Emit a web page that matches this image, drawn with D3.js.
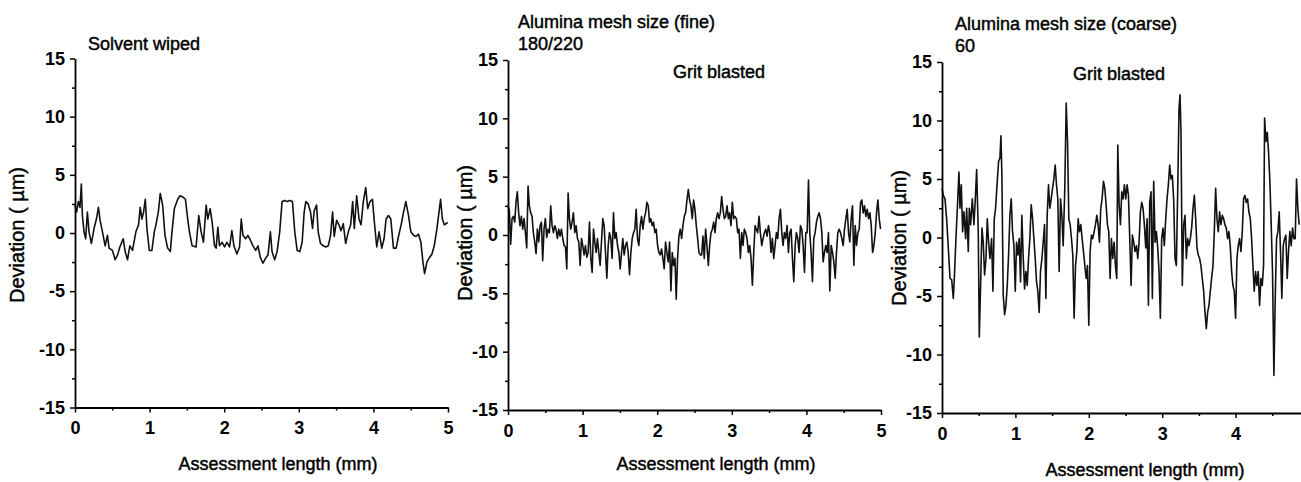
<!DOCTYPE html>
<html><head><meta charset="utf-8">
<script src="https://cdn.jsdelivr.net/npm/d3@7"></script>
<style>
body{margin:0;background:#fff;}
svg{display:block;}
text{font-family:"Liberation Sans",Arial,Helvetica,sans-serif;fill:#000;}
</style></head><body><svg id="chart" width="1301" height="482"></svg>
<script>
// ---- tick definitions ----
const xTicks = [0, 1, 2, 3, 4, 5];
const xMinorTicks = [0.5, 1.5, 2.5, 3.5, 4.5];
const yTicks = [-15, -10, -5, 0, 5, 10, 15];
const yMinorTicks = [-12.5, -7.5, -2.5, 2.5, 7.5, 12.5];
const xLabel = "Assessment length (mm)";
const yLabel = "Deviation ( µm)";

// ---- panel 1: solvent wiped (x in mm, deviation in µm) ----
const solventX = [0,0.022,0.045,0.067,0.085,0.099,0.121,0.143,0.166,0.188,0.220,0.256,0.287,0.314,0.336,0.368,0.404,0.435,0.457,0.502,0.538,0.570,0.601,0.646,0.673,0.704,0.735,0.771,0.816,0.852,0.874,0.897,0.919,0.942,0.964,0.996,1.031,1.063,1.085,1.117,1.143,1.175,1.206,1.242,1.278,1.300,1.332,1.377,1.408,1.444,1.480,1.511,1.534,1.570,1.623,1.659,1.691,1.722,1.758,1.780,1.812,1.839,1.870,1.892,1.915,1.937,1.973,2.004,2.036,2.072,2.103,2.130,2.170,2.206,2.229,2.251,2.287,2.318,2.350,2.386,2.422,2.453,2.484,2.520,2.552,2.587,2.619,2.641,2.677,2.709,2.744,2.776,2.812,2.843,2.879,2.915,2.946,2.978,3.013,3.045,3.072,3.094,3.126,3.157,3.184,3.206,3.238,3.260,3.291,3.327,3.363,3.395,3.426,3.453,3.475,3.507,3.538,3.565,3.596,3.628,3.664,3.695,3.722,3.744,3.776,3.807,3.834,3.865,3.897,3.924,3.955,3.987,4.009,4.045,4.076,4.112,4.143,4.170,4.202,4.233,4.269,4.305,4.336,4.372,4.404,4.435,4.471,4.502,4.538,4.570,4.605,4.637,4.664,4.686,4.717,4.753,4.785,4.816,4.852,4.879,4.901,4.924,4.951,4.996];
const solventY = [2.4,1.8,2.7,2.2,4.2,1.5,0.1,-0.5,1.8,0.1,-0.9,0.4,1.2,2.2,1.1,0.1,-1.1,-0.2,-1.3,-1.5,-2.3,-1.9,-1.2,-0.5,-1.6,-2.3,-1.1,-1.5,0.1,0.7,2.2,1.2,1.8,2.9,0.4,-1.5,-1.5,0.1,0.7,1.8,3.4,2.4,-0.2,-1.3,-1.6,0.1,2.1,2.9,3.2,3.1,2.9,1.2,0.1,-1.1,-1.2,1.5,0.1,-0.8,2.4,1.2,2.1,0.9,-1.1,-1.3,0.5,-1.1,-0.8,-1.2,-0.8,-1.2,0.2,-1.1,-1.8,-1.2,1.2,-0.2,-0.5,-0.2,-0.6,-1.1,-1.5,-1.1,-2.1,-2.6,-2.2,-1.9,0.1,-1.6,-2.3,-1.6,0.1,2.7,2.8,2.7,2.8,2.7,0.1,-1.5,-1.6,-0.8,1.8,2.7,2.5,1.8,0.4,1.9,2.4,0.1,-0.9,-1.1,-1.2,-1.1,-0.2,1.8,-0.3,1.1,0.7,0.2,0.8,-0.9,0.1,0.7,2.7,0.4,3.2,1.2,0.7,2.7,3.9,2.1,2.7,2.9,1.2,-1.2,0.1,-1.3,-0.5,1.2,1.5,1.2,-1.3,-1.3,-0.3,0.7,1.8,2.7,1.5,0.1,-0.2,-0.3,-0.1,-0.8,-2.5,-3.5,-2.5,-2.1,-1.8,-1.1,0.4,1.8,2.9,1.2,0.7,0.9];

// ---- panel 2: fine alumina 180/220 ----
const fineX = [0,0.018,0.036,0.054,0.072,0.090,0.107,0.125,0.143,0.161,0.179,0.197,0.215,0.233,0.251,0.269,0.286,0.304,0.322,0.340,0.358,0.376,0.394,0.412,0.430,0.448,0.465,0.483,0.501,0.519,0.537,0.555,0.573,0.591,0.609,0.627,0.644,0.662,0.680,0.698,0.716,0.734,0.752,0.770,0.788,0.806,0.823,0.841,0.859,0.877,0.895,0.913,0.931,0.949,0.967,0.985,1.002,1.020,1.038,1.056,1.074,1.092,1.110,1.128,1.146,1.164,1.181,1.199,1.217,1.235,1.253,1.271,1.289,1.307,1.325,1.343,1.360,1.378,1.396,1.414,1.432,1.450,1.468,1.486,1.504,1.522,1.539,1.557,1.575,1.593,1.611,1.629,1.647,1.665,1.683,1.701,1.718,1.736,1.754,1.772,1.790,1.808,1.826,1.844,1.862,1.880,1.897,1.915,1.933,1.951,1.969,1.987,2.005,2.023,2.041,2.059,2.076,2.094,2.112,2.130,2.148,2.166,2.184,2.202,2.220,2.238,2.255,2.273,2.291,2.309,2.327,2.345,2.363,2.381,2.399,2.417,2.434,2.452,2.470,2.488,2.506,2.524,2.542,2.560,2.578,2.596,2.613,2.631,2.649,2.667,2.685,2.703,2.721,2.739,2.757,2.775,2.792,2.810,2.828,2.846,2.864,2.882,2.900,2.918,2.936,2.954,2.971,2.989,3.007,3.025,3.043,3.061,3.079,3.097,3.115,3.133,3.150,3.168,3.186,3.204,3.222,3.240,3.258,3.276,3.294,3.312,3.329,3.347,3.365,3.383,3.401,3.419,3.437,3.455,3.473,3.491,3.508,3.526,3.544,3.562,3.580,3.598,3.616,3.634,3.652,3.670,3.687,3.705,3.723,3.741,3.759,3.777,3.795,3.813,3.831,3.849,3.866,3.884,3.902,3.920,3.938,3.956,3.974,3.992,4.010,4.028,4.045,4.063,4.081,4.099,4.117,4.135,4.153,4.171,4.189,4.207,4.224,4.242,4.260,4.278,4.296,4.314,4.332,4.350,4.368,4.386,4.403,4.421,4.439,4.457,4.475,4.493,4.511,4.529,4.547,4.565,4.582,4.600,4.618,4.636,4.654,4.672,4.690,4.708,4.726,4.744,4.761,4.779,4.797,4.815,4.833,4.851,4.869,4.887,4.905,4.923,4.940,4.958,4.976,4.994];
const fineY = [2.5,2.1,-0.8,1.4,1.6,1.1,2.8,3.7,1.9,0.8,1.6,0.5,1.4,0.2,-1.1,4.2,2.5,1.9,1.6,0.2,-0.6,-1.6,0.5,-0.6,0.8,1.1,-2.2,0.5,1.4,-0.2,0.5,0.2,2.5,0.8,0.2,0.8,0.5,-0.3,0.5,-0.1,0.5,-0.3,-0.9,-1.0,-2.9,3.6,1.4,0.5,1.1,1.9,0.2,0.8,-0.3,-0.6,-2.6,-0.3,-0.9,-1.7,-0.9,-1.9,-1.5,1.1,-2.0,-3.2,0.5,-0.6,-1.5,-0.3,-1.5,-2.6,-0.6,1.4,0.8,-1.5,-3.7,-0.9,0.2,-0.3,-2.0,1.9,-0.3,0.2,-0.9,-1.5,-2.9,-1.5,-0.3,-1.7,-0.9,-0.6,-1.5,-3.4,-1.5,-0.3,0.2,0.5,2.2,-0.3,-0.9,0.8,1.6,0.5,1.4,1.9,2.8,2.5,1.1,1.4,0.8,1.1,0.2,0.5,-0.9,-1.5,-1.7,-1.2,-2.0,-2.9,-0.6,-1.5,-2.3,-0.6,-4.8,-1.5,-2.6,-2.0,-5.5,-2.0,-0.1,0.5,-0.3,0.8,1.6,1.9,3.0,3.9,3.0,2.5,1.4,3.0,2.2,0.8,-0.3,-1.5,-1.7,-1.7,-0.1,-2.0,0.5,-0.9,-2.6,-0.9,0.2,0.5,1.1,0.2,1.4,1.9,1.4,1.9,3.3,2.2,1.4,1.6,2.5,1.4,1.9,0.8,2.8,1.4,1.6,1.4,0.2,0.5,-2.0,0.2,-0.9,0.5,0.2,-0.3,-1.5,-0.9,-2.0,-4.3,-1.5,0.8,0.5,0.2,1.6,0.2,-0.9,-0.3,0.2,0.5,-0.1,0.8,0.2,-1.5,-0.3,-2.0,-0.9,0.2,-0.3,1.4,2.2,0.2,-0.9,0.2,-0.3,0.8,-1.5,0.2,0.5,-2.0,-4.0,-0.9,0.2,-0.3,-1.5,0.8,0.5,-0.9,-3.2,0.2,0.2,4.7,0.2,-1.5,-4.0,-0.3,0.2,1.1,1.6,1.9,1.4,0.2,-2.3,-1.5,-0.9,-1.5,0.2,-4.8,-0.9,-1.5,-2.3,-3.7,-1.5,0.2,0.5,0.2,-0.3,-0.9,0.5,1.4,2.2,0.2,-0.6,1.4,2.5,-2.6,0.8,-0.9,0.2,0.5,2.8,3.0,1.9,2.5,1.6,2.2,1.4,1.9,0.8,-1.5,-0.9,0.2,1.9,3.0,1.4,0.5];

// ---- panel 3: coarse alumina 60 ----
const coarseX = [0,0.018,0.041,0.063,0.086,0.109,0.132,0.154,0.168,0.190,0.209,0.231,0.245,0.263,0.281,0.299,0.322,0.336,0.358,0.372,0.390,0.413,0.435,0.454,0.472,0.494,0.508,0.526,0.544,0.562,0.580,0.599,0.617,0.635,0.653,0.676,0.694,0.712,0.730,0.753,0.771,0.789,0.803,0.816,0.834,0.853,0.871,0.889,0.907,0.925,0.943,0.961,0.980,0.998,1.016,1.034,1.052,1.070,1.088,1.107,1.125,1.143,1.161,1.179,1.197,1.215,1.234,1.252,1.270,1.288,1.306,1.324,1.342,1.361,1.379,1.397,1.415,1.433,1.451,1.469,1.488,1.506,1.524,1.542,1.560,1.578,1.596,1.615,1.633,1.651,1.673,1.692,1.710,1.728,1.746,1.764,1.782,1.800,1.819,1.837,1.855,1.873,1.891,1.909,1.927,1.946,1.964,1.982,2.000,2.018,2.036,2.054,2.073,2.091,2.109,2.127,2.145,2.163,2.181,2.200,2.218,2.236,2.254,2.272,2.290,2.308,2.327,2.345,2.363,2.381,2.395,2.413,2.431,2.449,2.467,2.485,2.503,2.522,2.540,2.558,2.576,2.594,2.612,2.630,2.649,2.667,2.685,2.703,2.721,2.739,2.757,2.776,2.794,2.812,2.830,2.848,2.866,2.884,2.903,2.921,2.939,2.957,2.975,2.993,3.011,3.029,3.048,3.066,3.084,3.102,3.120,3.138,3.156,3.175,3.193,3.211,3.229,3.243,3.256,3.274,3.293,3.311,3.329,3.347,3.365,3.383,3.401,3.420,3.438,3.456,3.474,3.492,3.510,3.528,3.546,3.565,3.583,3.601,3.619,3.637,3.655,3.673,3.692,3.710,3.728,3.746,3.764,3.782,3.800,3.819,3.837,3.855,3.873,3.891,3.909,3.927,3.946,3.964,3.982,4.000,4.018,4.036,4.054,4.073,4.091,4.109,4.127,4.145,4.163,4.181,4.200,4.218,4.236,4.254,4.272,4.290,4.308,4.327,4.345,4.363,4.381,4.395,4.413,4.431,4.449,4.467,4.485,4.503,4.522,4.540,4.558,4.576,4.594,4.612,4.630,4.649,4.667,4.685,4.703,4.721,4.739,4.757,4.776,4.794,4.812,4.830,4.848,4.866,4.884];
const coarseY = [4.2,3.6,3.3,1.6,-0.9,-3.5,-3.6,-5.2,-3.5,-0.1,2.5,5.6,2.5,4.5,0.5,2.2,-0.1,2.5,-1.2,2.5,1.1,3.3,1.1,3.3,5.8,0.5,-8.5,-4.1,0.8,-0.4,-3.2,-1.8,1.6,-0.4,-1.8,-0.1,-4.6,1.6,2.5,4.8,6.5,6.8,8.7,5.3,-4.9,-6.6,-5.8,-4.1,-1.5,1.9,3.3,0.5,-0.7,-4.6,-0.4,-1.5,-0.1,-3.8,1.9,-1.8,-4.4,-2.9,-4.1,-1.8,-0.1,2.8,1.6,-0.1,-1.8,-3.8,-4.6,-6.4,-2.9,-1.8,-0.4,1.1,-5.2,1.9,4.5,2.5,3.3,4.2,5.0,6.2,4.5,3.3,-2.9,3.3,1.9,-0.7,4.2,11.5,8.2,1.6,1.1,-0.1,-1.5,-6.9,-2.4,-1.2,1.6,0.5,1.1,-0.1,-1.2,-2.4,-3.5,-2.4,-7.5,-1.2,0.2,-0.1,0.5,1.1,1.9,1.1,-0.4,2.5,3.3,4.8,4.2,2.8,1.1,0.5,-3.5,-0.1,-1.8,-0.4,-2.4,-3.5,7.9,2.8,1.1,3.9,3.3,4.5,3.3,4.5,3.6,-0.1,-4.1,0.2,-0.4,-1.2,-0.7,-1.8,-0.4,2.2,3.0,2.5,1.1,-0.9,1.6,-5.8,3.0,3.9,-5.2,4.8,-0.4,0.5,-0.9,-2.9,-6.9,-0.1,0.8,-0.7,1.6,3.3,4.5,6.2,5.0,5.3,3.3,-1.8,-2.4,3.9,11.0,12.2,9.0,-4.1,1.1,1.9,-1.8,-0.1,-0.7,-0.1,0.8,2.5,3.6,1.6,-0.9,-1.5,-1.8,-2.4,-3.5,-4.6,-6.4,-7.8,-6.4,-5.8,-4.6,-3.5,-2.4,0.5,4.2,1.6,0.5,2.2,1.1,1.9,1.6,1.1,0.8,-0.1,0.5,-0.7,-2.9,-4.1,-4.6,-6.9,-1.8,-0.7,-0.1,-1.2,0.5,3.3,3.6,3.0,3.3,2.2,1.6,-0.1,-2.4,-4.6,-2.9,-4.1,-2.9,-5.8,-3.5,-4.1,-2.4,10.2,8.2,9.0,7.3,4.8,1.1,-2.9,-11.8,-5.2,-0.1,0.5,2.2,-1.2,-5.2,-0.7,-0.1,0.2,-3.5,-1.2,0.5,-0.7,0.8,-0.1,-0.1,5.0,2.5,1.1];

// ---- layout (pixels) ----
const W = 1301;
const panels = [
  { xs: solventX, ys: solventY, left: 75, right: 448, top: 58.5, bottom: 407.5,
    notes: [{t: "Solvent wiped", x: 88, y: 50}],
    xTitle: {x: 278, y: 470}, yTitle: {x: 24, y: 235} },
  { xs: fineX, ys: fineY, left: 508, right: 881, top: 60, bottom: 410,
    notes: [{t: "Alumina mesh size (fine)", x: 518, y: 28}, {t: "180/220", x: 518, y: 50}, {t: "Grit blasted", x: 673, y: 78}],
    xTitle: {x: 716, y: 470}, yTitle: {x: 472, y: 233} },
  { xs: coarseX, ys: coarseY, left: 942, right: 1309, top: 62, bottom: 413,
    notes: [{t: "Alumina mesh size (coarse)", x: 955, y: 30}, {t: "60", x: 955, y: 52}, {t: "Grit blasted", x: 1073, y: 80}],
    xTitle: {x: 1145, y: 476}, yTitle: {x: 906, y: 238} }
];

const svg = d3.select("#chart");
const FS = 18;
const fmt = d => String(d);

panels.forEach(p => {
  const x = d3.scaleLinear().domain([0, 5]).range([p.left, p.right]);
  const y = d3.scaleLinear().domain([-15, 15]).range([p.bottom, p.top]);
  const g = svg.append("g");
  const visX = xTicks.filter(v => x(v) < W - 4);

  // data line
  const pts = d3.zip(p.xs, p.ys);
  g.append("path")
    .datum(pts)
    .attr("fill", "none")
    .attr("stroke", "#111")
    .attr("stroke-width", 1.6)
    .attr("stroke-linejoin", "round")
    .attr("d", d3.line().x(d => x(d[0])).y(d => y(d[1])));

  // minor ticks
  g.append("g").attr("transform", `translate(0,${p.bottom})`)
    .call(d3.axisBottom(x).tickValues(xMinorTicks).tickSize(3).tickFormat(""))
    .call(a => a.select(".domain").remove());
  g.append("g").attr("transform", `translate(${p.left},0)`)
    .call(d3.axisLeft(y).tickValues(yMinorTicks).tickSize(3).tickFormat(""))
    .call(a => a.select(".domain").remove());

  // major axes
  const xa = g.append("g").attr("transform", `translate(0,${p.bottom})`)
    .call(d3.axisBottom(x).tickValues(visX).tickSize(5).tickSizeOuter(0).tickPadding(9).tickFormat(fmt));
  const ya = g.append("g").attr("transform", `translate(${p.left},0)`)
    .call(d3.axisLeft(y).tickValues(yTicks).tickSize(5).tickSizeOuter(0).tickPadding(5).tickFormat(fmt));

  [xa, ya].forEach(a => {
    a.select(".domain").attr("stroke", "#000").attr("stroke-width", 1.8);
    a.selectAll(".tick text").attr("font-size", FS).attr("font-family", "Liberation Sans, Arial, sans-serif")
      .attr("font-weight", "bold").attr("fill", "#000");
  });
  g.selectAll(".tick line").attr("stroke", "#000").attr("stroke-width", 1.5);

  // notes
  p.notes.forEach(n => {
    g.append("text").attr("x", n.x).attr("y", n.y).attr("font-size", FS)
      .attr("stroke", "#000").attr("stroke-width", 0.45).text(n.t);
  });

  // axis titles
  g.append("text").attr("x", p.xTitle.x).attr("y", p.xTitle.y).attr("text-anchor", "middle")
    .attr("font-size", FS).attr("stroke", "#000").attr("stroke-width", 0.45).text(xLabel);
  g.append("text").attr("transform", `translate(${p.yTitle.x},${p.yTitle.y}) rotate(-90)`)
    .attr("text-anchor", "middle").attr("font-size", 20)
    .attr("stroke", "#000").attr("stroke-width", 0.45).text(yLabel);
});
</script></body></html>
